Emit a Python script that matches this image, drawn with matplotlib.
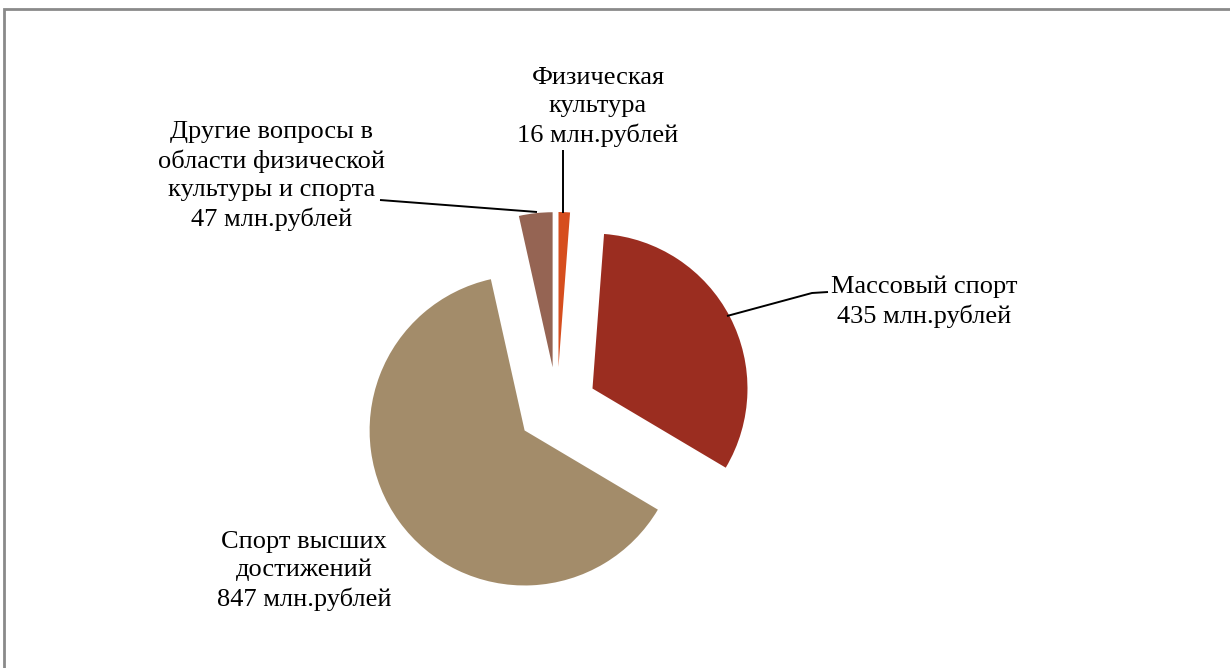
import matplotlib.pyplot as plt
from matplotlib.patches import Rectangle

categories = [
    "Физическая\nкультура",
    "Массовый спорт",
    "Спорт высших\nдостижений",
    "Другие вопросы в\nобласти физической\nкультуры и спорта",
]
values = [16, 435, 847, 47]
colors = ["#D64E1E", "#9B2D20", "#A38C6A", "#956453"]

W, H = 1230, 668
CENTER = (557, H - 407)
RADIUS = 155
EXPLODE = [40, 40, 40, 40]

# label centres and leader lines in pixel coords (y from top)
LABEL_POS = [(598, 107), (924, 302), (304, 571), (272, 176)]
LEADERS = [
    [(563, 150), (563, 213)],
    [(828, 292), (812, 293), (727, 316)],
    None,
    [(380, 200), (537, 212)],
]

plt.rcParams["font.family"] = ["Liberation Serif", "DejaVu Serif"]

fig = plt.figure(figsize=(W / 100, H / 100), dpi=100)
ax = fig.add_axes([0, 0, 1, 1])
ax.pie(
    values,
    colors=colors,
    startangle=90,
    counterclock=False,
    center=CENTER,
    radius=RADIUS,
    explode=EXPLODE,
    wedgeprops={"linewidth": 0},
)
ax.set_xlim(0, W)
ax.set_ylim(0, H)
ax.set_aspect("equal")
ax.axis("off")

for name, val, (x, y), leader in zip(categories, values, LABEL_POS, LEADERS):
    ax.text(x, H - y, f"{name}\n{val} млн.рублей", ha="center", va="center",
            fontsize=19, linespacing=1.36, color="black")
    if leader:
        ax.plot([p[0] for p in leader], [H - p[1] for p in leader],
                color="black", linewidth=1.4, solid_capstyle="butt")

fig.add_artist(Rectangle((4 / W, -0.5), 1.5, 0.5 + (H - 9) / H,
                         transform=fig.transFigure, fill=False,
                         edgecolor="#8a8a8a", linewidth=2))

fig.savefig("out.png", dpi=100)
